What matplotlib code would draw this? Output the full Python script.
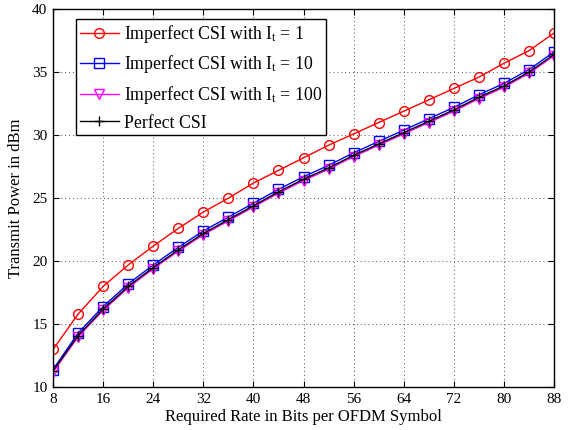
import matplotlib
matplotlib.use("Agg")
import matplotlib.pyplot as plt

plt.rcParams['font.family'] = ['Liberation Serif', 'DejaVu Serif']
plt.rcParams['mathtext.fontset'] = 'custom'
plt.rcParams['mathtext.rm'] = 'Liberation Serif'
plt.rcParams['mathtext.it'] = 'Liberation Serif:italic'

rate = [8, 12, 16, 20, 24, 28, 32, 36, 40, 44, 48, 52, 56, 60, 64, 68, 72, 76, 80, 84, 88]
csi_it1 = [13.0, 15.8, 18.0, 19.7, 21.2, 22.6, 23.9, 25.0, 26.2, 27.2, 28.2, 29.2, 30.1,
           31.0, 31.9, 32.8, 33.7, 34.6, 35.7, 36.7, 38.1]
csi_it10 = [11.4, 14.3, 16.4, 18.2, 19.7, 21.1, 22.4, 23.5, 24.6, 25.7, 26.7, 27.6, 28.6,
            29.5, 30.4, 31.3, 32.2, 33.2, 34.1, 35.2, 36.6]
csi_it100 = [11.2, 14.0, 16.1, 17.9, 19.4, 20.8, 22.1, 23.2, 24.3, 25.4, 26.4, 27.3, 28.3,
             29.2, 30.1, 31.0, 31.9, 32.9, 33.8, 34.9, 36.3]
csi_perfect = [11.3, 14.1, 16.2, 18.0, 19.5, 20.9, 22.2, 23.3, 24.4, 25.5, 26.5, 27.4, 28.4,
               29.3, 30.2, 31.1, 32.0, 33.0, 33.9, 35.0, 36.4]
xticks = [8, 16, 24, 32, 40, 48, 56, 64, 72, 80, 88]
yticks = [10, 15, 20, 25, 30, 35, 40]

fig = plt.figure(figsize=(5.73, 4.30), dpi=100)
ax = fig.add_axes([0.0925, 0.0993, 0.8745, 0.8797])

ax.plot(rate, csi_it1, color='red', marker='o', mfc='none', ms=7, lw=1.0, mew=1.0,
        label=r'Imperfect CSI with I$_{\mathrm{t}}$ = 1')
ax.plot(rate, csi_it10, color='blue', marker='s', mfc='none', ms=6.5, lw=1.0, mew=1.0,
        label=r'Imperfect CSI with I$_{\mathrm{t}}$ = 10')
ax.plot(rate, csi_it100, color='magenta', marker='v', mfc='none', ms=7.5, lw=1.0, mew=1.0,
        label=r'Imperfect CSI with I$_{\mathrm{t}}$ = 100')
ax.plot(rate, csi_perfect, color='black', marker='+', ms=7, lw=1.0, mew=1.0,
        label='Perfect CSI')

ax.set_xlim(8, 88)
ax.set_ylim(10, 40)
ax.set_xticks(xticks)
ax.set_yticks(yticks)
ax.tick_params(direction='in', top=True, right=True, labelsize=11, length=4, width=0.8, pad=4)
ax.grid(True, linestyle=(0, (1, 3)), color='#555555', linewidth=0.7)
for s in ax.spines.values():
    s.set_linewidth(1.0)

ax.set_xlabel('Required Rate in Bits per OFDM Symbol', fontsize=12, labelpad=2)
ax.set_ylabel('Transmit Power in dBm', fontsize=12, labelpad=6)

leg = ax.legend(loc='upper left', bbox_to_anchor=(23 / 501, 1 - 10 / 378), borderaxespad=0,
                fontsize=12.8, frameon=True, fancybox=False,
                edgecolor='black', framealpha=1, handlelength=2.2,
                labelspacing=0.48, handletextpad=0.3, borderpad=0.22)
leg.get_frame().set_linewidth(1.0)

fig.savefig('out.png', dpi=100)
